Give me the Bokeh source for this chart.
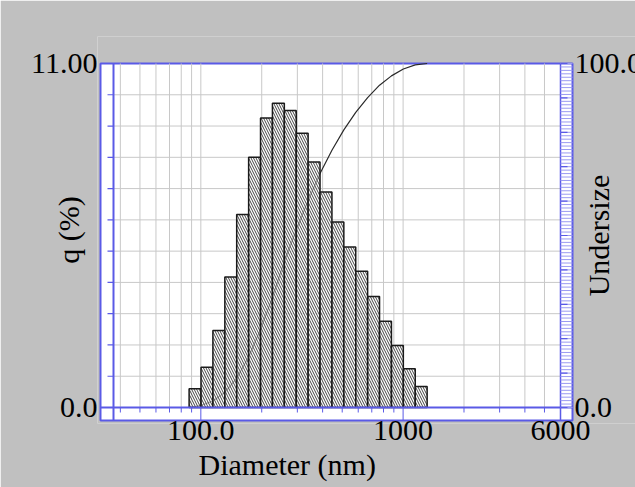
import math
from bokeh.plotting import figure
from bokeh.models import Range1d, FixedTicker, Title
from bokeh.core.properties import value
from bokeh.embed import file_html
from bokeh.resources import INLINE

# ---------------- data ----------------
bin_edges = [87.5, 100.2, 114.7, 131.4, 150.4, 172.3, 197.3, 225.9, 258.7,
             296.2, 339.2, 388.4, 444.8, 509.3, 583.2, 667.8, 764.7, 875.7,
             1002.7, 1148.2, 1314.8]
q_percent = [0.60, 1.29, 2.46, 4.17, 6.17, 8.00, 9.26, 9.73, 9.50, 8.77,
             7.85, 6.89, 5.93, 5.13, 4.36, 3.55, 2.76, 1.98, 1.24, 0.67]
undersize = [0.0, 0.6, 1.9, 4.4, 8.5, 14.7, 22.7, 32.0, 42.5, 51.5, 60.2,
             68.0, 74.8, 80.7, 85.8, 90.1, 93.7, 96.4, 98.4, 99.6, 100.0]

x_limits = [37, 6000]
x_tick_values = [100, 1000, 6000]
x_tick_labels = ["100.0", "1000", "6000"]
x_grid_values = [40, 50, 60, 70, 80, 90, 100, 200, 300, 400, 500, 600, 700,
                 800, 900, 1000, 2000, 3000, 4000, 5000]
y_left_limits = [0, 11]
y_left_tick_labels = ["0.0", "11.00"]
y_left_grid = [1, 2, 3, 4, 5, 6, 7, 8, 9, 10]
y_left_ticks = [0, 1, 2, 3, 4, 5, 6, 7, 8, 9, 10, 11]
y_right_limits = [0, 100]
y_right_tick_labels = ["0.0", "100.0"]
y_right_major = [0, 10, 20, 30, 40, 50, 60, 70, 80, 90, 100]
y_right_minor = list(range(0, 101))

x_title = "Diameter (nm)"
y_left_title = "q (%)"
y_right_title = "Undersize"

# ---------------- styling / geometry (pixels) ----------------
BLUE = "#5a5ae6"
LIGHT_BLUE = "#9a9af2"
GRID = "#c8c8c8"
GRAY = "#c0c0c0"
FONT = "Liberation Serif"
FS = "30px"
W, H = 635, 487
FL, FT, FB = 97, 36, 423            # frame edges (frame reaches the right edge)
BOX_L, BOX_R, BOX_T, BOX_B = 100, 572, 63, 420   # blue outer box
AX_L, AX_R, AX_B = 113, 560, 407    # inner axis lines
ppd = (AX_R - AX_L) / math.log10(x_limits[1] / x_limits[0])   # px per decade
ppu = (AX_B - BOX_T) / (y_left_limits[1] - y_left_limits[0])  # px per unit


def xd(px):
    """pixel column -> data x (log axis)"""
    return x_limits[0] * 10 ** ((px - AX_L) / ppd)


def yd(py):
    """pixel row -> data y (left axis)"""
    return y_left_limits[0] + (AX_B - py) / ppu


r_scale = (y_right_limits[1] - y_right_limits[0]) / (y_left_limits[1] - y_left_limits[0])

p = figure(width=W, height=H, x_axis_type="log",
           x_range=Range1d(xd(FL), xd(W)), y_range=Range1d(yd(FB), yd(FT)),
           output_backend="svg", toolbar_location=None,
           min_border_left=FL, min_border_right=0,
           min_border_top=FT, min_border_bottom=H - FB)
p.extra_y_ranges = {"right": Range1d(yd(FB) * r_scale, yd(FT) * r_scale)}

p.border_fill_color = GRAY
p.background_fill_color = GRAY
p.outline_line_color = None
p.xgrid.visible = False
p.ygrid.visible = False

# ---- axes ----
xa = p.xaxis[0]
xa.ticker = FixedTicker(ticks=x_tick_values)
xa.major_label_overrides = dict(zip(x_tick_values, x_tick_labels))
xa.axis_line_color = None
xa.major_tick_line_color = None
xa.minor_tick_line_color = None
xa.major_tick_out = 0
xa.major_label_standoff = -3
xa.major_label_text_font = FONT
xa.major_label_text_font_size = FS
xa.major_label_text_color = "black"

p.add_layout(Title(text=x_title, align="left", offset=198 - FL, standoff=6,
                   text_font=FONT, text_font_size=FS, text_font_style="normal",
                   text_color="black"), "below")

ya = p.yaxis[0]
ya.ticker = FixedTicker(ticks=y_left_limits)
ya.major_label_overrides = dict(zip(y_left_limits, y_left_tick_labels))
ya.axis_line_color = None
ya.major_tick_line_color = None
ya.minor_tick_line_color = None
ya.major_tick_out = 0
ya.major_label_standoff = 0
ya.major_label_text_font = FONT
ya.major_label_text_font_size = FS
ya.major_label_text_color = "black"
ya.axis_label = y_left_title
ya.axis_label_standoff = -57
ya.axis_label_text_font = FONT
ya.axis_label_text_font_size = FS
ya.axis_label_text_font_style = "normal"
ya.axis_label_text_color = "black"

# ---- white plot box ----
p.quad(left=[xd(BOX_L)], right=[xd(BOX_R)], bottom=[yd(BOX_B)], top=[yd(BOX_T)],
       fill_color="white", line_color=BLUE, line_width=2)

# ---- grid (inside the inner axes) ----
n = len(x_grid_values)
p.segment(x0=x_grid_values, x1=x_grid_values,
          y0=[y_left_limits[0]] * n, y1=[y_left_limits[1]] * n,
          line_color=GRID, line_width=1)
m = len(y_left_grid)
p.segment(x0=[x_limits[0]] * m, x1=[x_limits[1]] * m,
          y0=y_left_grid, y1=y_left_grid, line_color=GRID, line_width=1)

# ---- cumulative undersize curve (behind the bars) ----
p.line(bin_edges, undersize, y_range_name="right", line_color="#2a2a2a", line_width=1.2)

# ---- histogram ----
p.quad(left=bin_edges[:-1], right=bin_edges[1:], bottom=0, top=q_percent,
       fill_color="white", fill_alpha=0.62, line_color="#1a1a1a", line_width=1.5,
       hatch_pattern="left_diagonal_line", hatch_color="#444444",
       hatch_weight=1.0, hatch_scale=5)

# ---- inner axis lines ----
p.segment(x0=[xd(BOX_L)], x1=[xd(BOX_R)], y0=[y_left_limits[0]], y1=[y_left_limits[0]],
          line_color=BLUE, line_width=2)
p.segment(x0=[x_limits[0]], x1=[x_limits[0]], y0=[yd(BOX_B)], y1=[yd(BOX_T)],
          line_color=BLUE, line_width=2)
p.segment(x0=[x_limits[1]], x1=[x_limits[1]], y0=[yd(BOX_B)], y1=[yd(BOX_T)],
          line_color=BLUE, line_width=1.5)

# ---- tick marks ----
k = len(y_left_ticks)
p.segment(x0=[xd(AX_L - 6)] * k, x1=[x_limits[0]] * k,
          y0=y_left_ticks, y1=y_left_ticks, line_color=BLUE, line_width=1.2)
minor_x = [v for v in x_grid_values if v not in x_tick_values]
p.segment(x0=minor_x, x1=minor_x, y0=[0] * len(minor_x),
          y1=[yd(AX_B + 5)] * len(minor_x), line_color=BLUE, line_width=1)
major_x = [v for v in x_tick_values if v < x_limits[1]]
p.segment(x0=major_x, x1=major_x, y0=[0] * len(major_x),
          y1=[yd(BOX_B)] * len(major_x), line_color=BLUE, line_width=1)
# right axis: dense minor ticks between inner line and box
nm = len(y_right_minor)
p.segment(x0=[x_limits[1]] * nm, x1=[xd(BOX_R)] * nm, y0=y_right_minor, y1=y_right_minor,
          y_range_name="right", line_color=LIGHT_BLUE, line_width=1)
nM = len(y_right_major)
p.segment(x0=[x_limits[1]] * nM, x1=[xd(AX_R + 7)] * nM, y0=y_right_major, y1=y_right_major,
          y_range_name="right", line_color=BLUE, line_width=1.2)

# ---- right tick labels and title ----
p.text(x=[xd(BOX_R + 2)] * 2, y=y_right_limits, text=y_right_tick_labels,
       y_range_name="right", text_font=value(FONT), text_font_size=FS,
       text_align="left", text_baseline="middle", text_color="black")
p.text(x=[xd(598)], y=[yd(235)], text=[y_right_title], angle=math.pi / 2,
       text_font=value(FONT), text_font_size=FS,
       text_align="center", text_baseline="middle", text_color="black")

open("out.html", "w").write(file_html(p, INLINE))
